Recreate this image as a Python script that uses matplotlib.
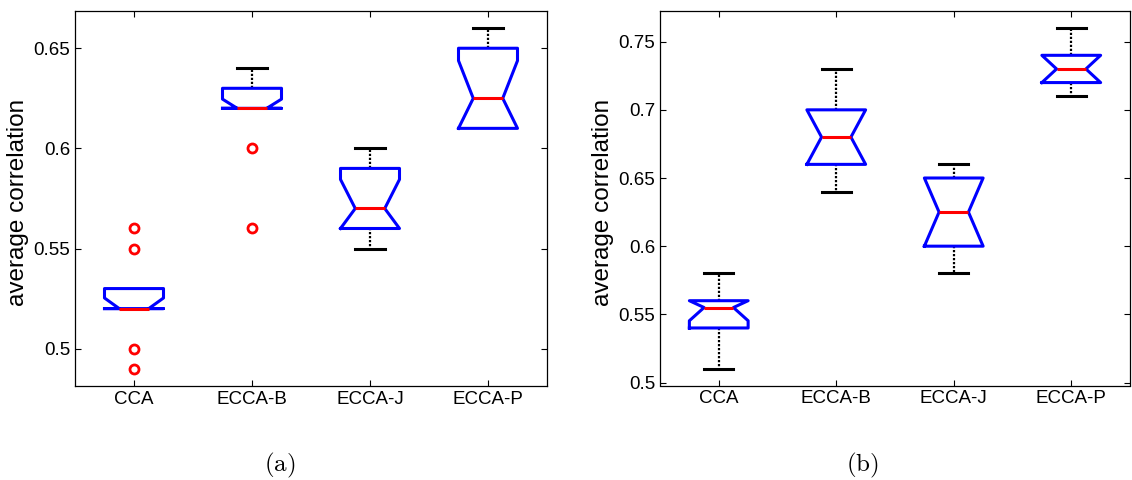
import matplotlib
matplotlib.use("Agg")
import matplotlib.pyplot as plt
import numpy as np

plt.rcParams['font.family'] = ['Liberation Sans', 'DejaVu Sans']
plt.rcParams['mathtext.fontset'] = 'cm'

categories = ['CCA', 'ECCA-B', 'ECCA-J', 'ECCA-P']

# Panel (a)
a_q1 = [0.52, 0.62, 0.56, 0.61]
a_med = [0.52, 0.62, 0.57, 0.625]
a_q3 = [0.53, 0.63, 0.59, 0.65]
a_whislo = [0.52, 0.62, 0.55, 0.61]
a_whishi = [0.53, 0.64, 0.60, 0.66]
a_cilo = [0.52, 0.62, 0.56, 0.61]
a_cihi = [0.5253, 0.6246, 0.5845, 0.6438]
a_fliers = [[0.56, 0.55, 0.50, 0.49], [0.60, 0.56], [], []]
a_yticks = [0.5, 0.55, 0.6, 0.65]
a_yticklabels = ['0.5', '0.55', '0.6', '0.65']

# Panel (b)
b_q1 = [0.54, 0.66, 0.60, 0.72]
b_med = [0.555, 0.68, 0.625, 0.73]
b_q3 = [0.56, 0.70, 0.65, 0.74]
b_whislo = [0.51, 0.64, 0.58, 0.71]
b_whishi = [0.58, 0.73, 0.66, 0.76]
b_cilo = [0.5453, 0.66, 0.60, 0.72]
b_cihi = [0.56, 0.70, 0.65, 0.74]
b_fliers = [[], [], [], []]
b_yticks = [0.5, 0.55, 0.6, 0.65, 0.7, 0.75]
b_yticklabels = ['0.5', '0.55', '0.6', '0.65', '0.7', '0.75']

ylabel = 'average correlation'
panel_labels = ['(a)', '(b)']

fig = plt.figure(figsize=(11.32, 4.8), dpi=100)
ax_a = fig.add_axes([75/1132, (480-385.7)/480, 472/1132, 374.7/480])
ax_b = fig.add_axes([660/1132, (480-385.5)/480, 470/1132, 374.5/480])


def draw(ax, q1, med, q3, wlo, whi, cilo, cihi, fliers, yticks, yticklabels, ylim):
    stats = []
    for i in range(len(categories)):
        stats.append(dict(q1=q1[i], med=med[i], q3=q3[i], whislo=wlo[i], whishi=whi[i],
                          cilo=cilo[i], cihi=cihi[i], fliers=np.array(fliers[i]),
                          label=categories[i]))
    pos = np.arange(1, len(categories) + 1)
    res = ax.bxp(stats, positions=pos, widths=0.5, shownotches=True, showfliers=True,
                 boxprops=dict(color='#0000ff', linewidth=2.2),
                 medianprops=dict(color='#ff0000', linewidth=2.2),
                 whiskerprops=dict(color='black', linewidth=1.6, linestyle=(0, (1, 0.8))),
                 capprops=dict(color='black', linewidth=2.2),
                 flierprops=dict(marker='o', markerfacecolor='none', markeredgecolor='#ff0000',
                                 markersize=6.5, markeredgewidth=2.0, linestyle='none'))
    for i in range(len(categories)):
        lo_cap, hi_cap = res['caps'][2*i], res['caps'][2*i+1]
        if wlo[i] >= q1[i]:
            lo_cap.set_visible(False)
        if whi[i] <= q3[i]:
            hi_cap.set_visible(False)
    for b in res['boxes']:
        b.set_zorder(3)
    for m in res['medians']:
        m.set_zorder(4)
    ax.set_xlim(0.5, len(categories) + 0.5)
    ax.set_ylim(*ylim)
    ax.set_xticks(pos)
    ax.set_xticklabels(categories)
    ax.set_yticks(yticks)
    ax.set_yticklabels(yticklabels)
    ax.tick_params(direction='in', length=4, width=0.8, top=True, right=True,
                   labelsize=13.5, pad=3.5, colors='black')
    for s in ax.spines.values():
        s.set_linewidth(0.9)
    ax.set_ylabel(ylabel, fontsize=17.5)
    ax.yaxis.set_label_coords(-0.098, 0.49)


draw(ax_a, a_q1, a_med, a_q3, a_whislo, a_whishi, a_cilo, a_cihi, a_fliers,
     a_yticks, a_yticklabels, (0.4815, 0.6686))
draw(ax_b, b_q1, b_med, b_q3, b_whislo, b_whishi, b_cilo, b_cihi, b_fliers,
     b_yticks, b_yticklabels, (0.4978, 0.7725))

fig.text(280/1132, 0.017, r'$\mathrm{' + panel_labels[0] + '}$', fontsize=18,
         ha='center', va='baseline')
fig.text(862/1132, 0.017, r'$\mathrm{' + panel_labels[1] + '}$', fontsize=18,
         ha='center', va='baseline')

fig.savefig('out.png', dpi=100)
